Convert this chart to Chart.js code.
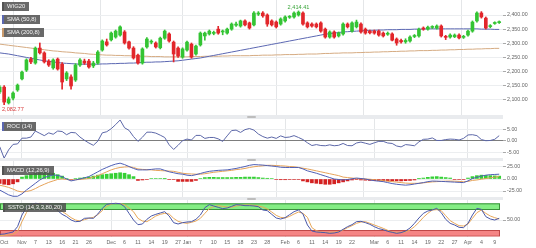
<!DOCTYPE html>
<html><head><meta charset="utf-8">
<script src="https://cdn.jsdelivr.net/npm/chart.js@4.4.1/dist/chart.umd.min.js"></script>
<style>
html,body{margin:0;padding:0;background:#fff;width:536px;height:248px;overflow:hidden;font-family:"Liberation Sans",Arial,sans-serif}
canvas{position:absolute;left:0}
.sep{position:absolute;left:0;width:503px;background:#e9ebee}
.handle{position:absolute;left:247px;width:9px;height:2px;background:#bdbdbd;border-radius:1px}
.tag{position:absolute;left:2px;background:rgba(80,80,80,0.86);color:#f4f4f4;font-size:5.9px;line-height:7px;padding:1px 4px 1px 3px;white-space:nowrap;border-left:2px solid rgba(80,80,80,0.86)}
</style></head><body>
<canvas id="cMain" width="536" height="115" style="top:0;width:536px;height:115px"></canvas>
<canvas id="cRoc" width="536" height="39" style="top:119px;width:536px;height:39px"></canvas>
<canvas id="cMacd" width="536" height="36" style="top:161px;width:536px;height:36px"></canvas>
<canvas id="cSsto" width="536" height="48" style="top:200px;width:536px;height:48px"></canvas>
<div class="sep" style="top:115px;height:4px"></div>
<div class="sep" style="top:158px;height:3px"></div>
<div class="sep" style="top:197px;height:3px"></div>
<div class="handle" style="top:116px"></div>
<div class="handle" style="top:158.5px"></div>
<div class="handle" style="top:197.5px"></div>
<div class="tag" style="top:2px">WIG20</div>
<div class="tag" style="top:15px;border-left-color:#5b67b2">SMA (50,8)</div>
<div class="tag" style="top:28px;border-left-color:#c99a6c">SMA (200,8)</div>
<div class="tag" style="top:122px;border-left-color:#5b67b2">ROC (14)</div>
<div class="tag" style="top:166px">MACD (12,26,9)</div>
<div class="tag" style="top:203px;left:3px">SSTO (14,3,3,80,20)</div>
<script>
// ---------- data ----------
const dates = ["10-25","10-26","10-29","10-30","10-31","11-02","11-05","11-06","11-07","11-08","11-09","11-13","11-14","11-15","11-16","11-19","11-20","11-21","11-22","11-23","11-26","11-27","11-28","11-29","11-30","12-03","12-04","12-05","12-06","12-07","12-10","12-11","12-12","12-13","12-14","12-17","12-18","12-19","12-20","12-21","12-27","12-28","01-02","01-03","01-04","01-07","01-08","01-09","01-10","01-11","01-14","01-15","01-16","01-17","01-18","01-21","01-22","01-23","01-24","01-25","01-28","01-29","01-30","01-31","02-01","02-04","02-05","02-06","02-07","02-08","02-11","02-12","02-13","02-14","02-15","02-18","02-19","02-20","02-21","02-22","02-25","02-26","02-27","02-28","03-01","03-04","03-05","03-06","03-07","03-08","03-11","03-12","03-13","03-14","03-15","03-18","03-19","03-20","03-21","03-22","03-25","03-26","03-27","03-28","03-29","04-01","04-02","04-03","04-04","04-05","04-08","04-09","04-10"];
const tickDates = ["10-26","11-02","11-07","11-13","11-16","11-21","11-26","12-03","12-06","12-11","12-14","12-19","12-27","01-02","01-07","01-10","01-15","01-18","01-23","01-28","02-01","02-06","02-11","02-14","02-19","02-22","03-01","03-06","03-11","03-14","03-19","03-22","03-27","04-01","04-04","04-09"];
const tickTexts = ["Oct","Nov","7","13","16","21","26","Dec","6","11","14","19","27","Jan","7","10","15","18","23","28","Feb","6","11","14","19","22","Mar","6","11","14","19","22","27","Apr","4","9"];
const monthStarts = ["11-02","12-03","01-02","02-01","03-01","04-01"];

const opens = [2128,2145,2089,2106,2135,2174,2205,2244,2230,2283, 2266,2237,2213,2244,2226,2174,2181,2170,2223,2237, 2237,2220,2230,2276,2305,2312,2322,2329,2340,2305, 2283,2258,2230,2287,2304,2301,2284,2318,2333,2304, 2283,2251,2276,2297,2262,2294,2326,2333,2335,2350, 2340,2336,2350,2364,2361,2379,2372,2365,2403,2407, 2400,2379,2375,2368,2379,2392,2393,2400,2407,2372, 2368,2368,2372,2350,2322,2340,2326,2333,2368,2343, 2358,2368,2350,2343,2343,2343,2336,2332,2333,2315, 2310,2305,2308,2324,2326,2354,2350,2356,2354,2361, 2324,2322,2323,2329,2321,2329,2343,2379,2407,2389, 2359,2370,2373];
const highs = [2150,2150,2110,2128,2156,2202,2245,2250,2287,2301, 2270,2242,2245,2248,2232,2200,2188,2228,2246,2244, 2243,2236,2274,2312,2315,2340,2347,2362,2345,2308, 2288,2262,2284,2320,2312,2305,2322,2347,2337,2308, 2287,2284,2308,2301,2294,2340,2340,2347,2343,2360, 2347,2354,2372,2375,2382,2383,2375,2412,2412,2412, 2404,2383,2379,2390,2397,2398,2411,2414.41,2411,2376, 2372,2372,2376,2354,2344,2344,2340,2372,2372,2376, 2382,2372,2354,2347,2347,2347,2340,2340,2337,2319, 2315,2316,2326,2331,2354,2358,2361,2362,2365,2365, 2328,2333,2333,2333,2328,2347,2379,2411,2412,2393, 2366,2376,2379];
const lows = [2122,2082.77,2085,2100,2130,2170,2200,2228,2226,2262, 2230,2218,2208,2205,2138,2168,2138,2165,2218,2225, 2212,2214,2226,2272,2290,2308,2318,2325,2297,2279, 2244,2226,2226,2283,2298,2283,2280,2314,2304,2234, 2250,2247,2272,2247,2258,2290,2311,2329,2330,2332, 2330,2332,2346,2360,2357,2361,2350,2361,2398,2392, 2360,2361,2354,2364,2375,2388,2389,2396,2364,2354, 2357,2354,2339,2318,2318,2318,2322,2329,2354,2339, 2354,2336,2332,2333,2332,2325,2322,2328,2308,2293, 2300,2300,2304,2320,2322,2346,2346,2352,2350,2322, 2313,2318,2320,2315,2317,2325,2339,2375,2389,2350, 2355,2367,2370];
const closes = [2145,2092,2103,2124,2152,2198,2241,2234,2283,2266, 2234,2223,2241,2209,2163,2195,2149,2223,2241,2230, 2216,2230,2269,2308,2294,2336,2343,2358,2301,2283, 2248,2230,2280,2315,2306,2287,2318,2343,2308,2262, 2255,2280,2304,2251,2290,2336,2336,2343,2337,2336, 2343,2350,2368,2368,2379,2365,2354,2407,2407,2397, 2368,2365,2358,2386,2393,2394,2407,2410,2368,2358, 2361,2358,2343,2322,2340,2322,2336,2368,2358,2372, 2375,2340,2336,2337,2336,2329,2326,2334,2311,2301, 2305,2310,2322,2327,2350,2350,2357,2358,2361,2326, 2321,2329,2329,2319,2323,2343,2375,2407,2393,2354, 2362,2372,2375];
const sma50 = [2266,2264,2262,2259,2256,2253,2250,2247,2244,2241, 2238,2236,2234,2232,2230,2229,2228,2227,2226,2226, 2226,2226,2226,2227,2227,2228,2228,2229,2229,2230, 2230,2231,2232,2233,2233,2234,2234,2235,2236,2237, 2238,2240,2242,2244,2246,2248,2251,2254,2257,2260, 2263,2266,2269,2272,2275,2278,2281,2284,2287,2290, 2293,2296,2299,2302,2305,2308,2311,2314,2317,2320, 2323,2326,2329,2332,2334,2336,2338,2340,2341,2342, 2343,2344,2345,2346,2346,2347,2347,2348,2348,2348, 2349,2349,2349,2350,2350,2350,2351,2351,2351,2351, 2351,2351,2351,2351,2351,2351,2351,2351,2350,2350, 2350,2349,2349];
const sma200 = [2297,2295,2293,2291,2289,2287,2285,2283,2281,2279, 2277,2275,2273,2272,2270,2269,2268,2266,2265,2264, 2262,2261,2260,2259,2258,2258,2257,2257,2256,2256, 2255,2255,2254,2254,2253,2253,2253,2252,2252,2252, 2252,2252,2252,2253,2253,2253,2254,2254,2254,2254, 2255,2255,2256,2256,2256,2256,2256,2257,2257,2258, 2258,2258,2259,2259,2260,2260,2260,2261,2261,2262, 2262,2262,2263,2264,2264,2265,2265,2266,2266,2266, 2267,2267,2268,2268,2269,2269,2270,2270,2271,2271, 2272,2272,2273,2273,2274,2274,2274,2275,2275,2276, 2276,2277,2277,2278,2278,2279,2279,2280,2280,2281, 2281,2282,2282];
const roc = [-2.6,-7.6,-4.0,-1.6,-1.4,1.1,1.1,1.6,4.2,3.2, 2.2,3.4,2.8,4.2,4.0,2.6,3.6,3.4,1.6,0.2, -1.0,-2.0,-0.2,3.4,3.9,5.2,7.0,9.0,5.6,4.5, 1.8,-0.3,1.5,3.7,3.7,3.3,2.4,1.4,-1.8,-3.8, -2.0,0.0,0.7,0.3,2.3,2.3,1.0,1.4,1.4,0.8, -0.3,2.1,4.4,4.6,3.6,4.8,5.3,4.6,2.9,1.8, 1.1,1.6,1.0,2.1,1.4,1.6,2.2,1.4,0.5,-0.9, -2.1,-1.7,-2.1,-2.2,-1.8,-2.2,-2.0,-1.2,-2.1,-2.2, -1.0,-0.6,-1.1,-1.6,-0.9,-0.3,-0.3,-1.0,-1.2,-2.3, -2.7,-1.7,-1.9,-2.2,-0.5,0.6,0.7,1.2,0.1,0.1, 0.5,0.7,0.6,0.3,1.0,2.5,2.6,2.2,0.5,0.0, 0.1,0.6,2.2];
const macd = [-23,-28,-33,-36,-36,-31,-23,-16,-9,-2, 3,6,8.5,7.5,5,0,-4,-2,0,2.5, 5,10,15,20,24,28,31,33,30,26, 22,19,19,19,20,21,21,18,15,13, 11,10,8,7,9,11.5,14,16,17,18, 18.5,19,20.5,22,24,26,28.5,30,29.5,29, 28,27,26,24.5,24,24,24,24,21,17, 14.5,12,9,6,3,0,-1,-2,-1,0.5, 2,1,0,-2,-3.5,-4.5,-5.5,-7.5,-9.5,-11, -12,-12.8,-12,-10.5,-9,-7.5,-5.5,-4.3,-4.5,-5, -5.5,-6,-6.5,-7,-7.5,-4,1,3.5,6,8, 9,9.5,10];
const macdSignal = [-13,-15,-17.5,-21,-25,-27,-26,-24,-20,-15, -11,-7,-4,-1,0,-1,-2,-1.5,-1,0, 1,4,7,11,15,19,22,24,25,25.5, 24,21,20,19.5,19,18,17.5,17,16.5,16, 14,12,11,10.5,10,10,11,12.5,14,15, 16,17,18,19.5,20.5,22,24,25.5,26.5,27.5, 28.5,28.5,28,27.5,27,26,25.5,24,22.5,21, 19,17,15,13,11,9,7,4,3,2, 1,0.5,0,-0.5,-1.5,-2.5,-3.5,-4.5,-5.5,-6.5, -7.5,-8.5,-9,-9,-9,-8,-7,-6,-5.5,-5, -4.5,-4.3,-4.5,-5,-5.7,-5,-3,-2,-0.5,1, 2.5,4,5];
const macdHist = [-9,-11,-12,-10,-6,4,7,10,12,13, 14,13,12,9,6,1,-1,1,2,3, 4,6,8,9,10,11,12,13,12,9, 5,-3,-2,-1,1,1,1,0.5,-1,-1, -5,-5,-5,-5,-3,1,3,3.5,3.5,3, 3,3,3,3.5,3.5,4,4,4,3,2, 1.5,1,-1,-1.5,-1.5,-1,-1,-1,-4,-6, -8,-9,-10,-11,-11,-10,-8,-6,-4,-2, -1,-2,-2.5,-3,-3.5,-3.5,-4,-4,-4,-4, -4,-3.5,-3,-2,0.5,2,3.5,4.5,5,4, 3,2,-1,-1,-1,2,5,7,8,7.5, 7,6.5,6];
const stochK = [7,8,11,14,30,65,88,97,100,99, 99,97,90,78,67,60,50,45,46,55, 56,55,68,85,97,99,100,99,90,70, 50,36,38,52,62,67,71,75,62,42, 38,42,44,45,52,65,87,96,92,88, 84,86,91,96,95,93,93,92,90,80, 78,67,56,53,57,66,75,80,68,35, 17,14,13,12,10,11,14,22,30,36, 45,46,42,37,30,24,21,16,13,10, 12,17,26,40,56,70,77,80,85,72, 52,40,35,28,27,40,65,85,82,60, 53,50,55];
const stochD = [3,4,5,7,15,45,72,90,98,100, 99,96,91,85,76,67,57,50,47,51, 55,58,66,78,91,98,100,99,96,86, 75,55,47,45,53,62,67,70,68,55, 46,42,40,43,47,55,70,84,90,93, 91,89,88,92,94,95,95,94,92,89, 83,74,64,58,56,61,68,74,70,58, 27,18,14,13,13,14,15,20,27,33, 40,44,45,40,35,30,25,19,14,13, 13,14,20,30,43,58,70,80,81,78, 63,48,40,33,32,38,55,72,80,70, 62,57,53];
const priceTicks = [2100,2150,2200,2250,2300,2350,2400];
const rocTicks = [-5,0,5];
const macdTicks = [-25,0,25];
const stochTicks = [50];
const stochLevels = [20,80];
const priceMarks = [{date:"10-26", value:2082.77, kind:"low"},{date:"02-06", value:2414.41, kind:"high"}];

// ---------- rendering ----------
const FONT = '"Liberation Sans", Arial, sans-serif';
Chart.defaults.font.family = FONT;
const UP = '#33c433', DOWN = '#e2262b';
const X_MIN = 0.07, X_MAX = 112.85;
const idx = d => dates.indexOf(d);
const tickIdx = tickDates.map(idx);
const monthIdx = monthStarts.map(idx);
const fmt = v => Number(v).toLocaleString('en-US',{minimumFractionDigits:2,maximumFractionDigits:2});
const pts = arr => arr.map((v,i)=>({x:i,y:v}));

function xScale(show){
  return {
    type:'linear', min:X_MIN, max:X_MAX, offset:false,
    afterBuildTicks: s => { s.ticks = tickIdx.map(v=>({value:v})); },
    afterFit: s => { s.height = show ? 11.5 : 0; s.paddingLeft = 0; s.paddingRight = 0; },
    grid:{ drawTicks:false, lineWidth:1, color: c => (c.tick && monthIdx.includes(c.tick.value)) ? '#e4e6e8' : 'rgba(0,0,0,0)' },
    border:{display:false},
    ticks:{ display:show, autoSkip:false, maxRotation:0, minRotation:0, padding:2.4, color:'#666', font:{size:5.3},
      callback: v => tickTexts[tickIdx.indexOf(v)] }
  };
}
function yScale(min,max,ticks,zeroDark){
  return {
    position:'right', min, max,
    afterBuildTicks: s => { s.ticks = ticks.map(v=>({value:v})); },
    afterFit: s => { s.width = 33; s.paddingTop = 0; s.paddingBottom = 0; },
    grid:{ drawTicks:true, tickLength:3, tickColor:'#aaa', lineWidth:1,
      color: c => (zeroDark && c.tick && c.tick.value===0) ? '#7d7d7d' : '#eceef0' },
    border:{display:false},
    ticks:{ padding:1, color:'#666', font:{size:5.3}, callback: v => fmt(v) }
  };
}
function baseOpts(y, showX){
  return { responsive:false, animation:false, devicePixelRatio:1, events:[],
    layout:{padding:0, autoPadding:false},
    plugins:{legend:{display:false}, tooltip:{enabled:false}},
    scales:{ x:xScale(showX), y } };
}
const line = (arr,color,order) => ({type:'line', data:pts(arr), borderColor:color, borderWidth:1, pointRadius:0, tension:0, order});

// main price chart
const candleColors = closes.map((c,i)=> c>=opens[i] ? UP : DOWN);
const markPlugin = { id:'marks', afterDatasetsDraw(chart){
  const {ctx, scales:{x,y}} = chart;
  ctx.save(); ctx.font = '5.6px ' + FONT; ctx.textBaseline = 'alphabetic';
  priceMarks.forEach(m=>{
    const px = x.getPixelForValue(idx(m.date)), py = y.getPixelForValue(m.value);
    const t = fmt(m.value), w = ctx.measureText(t).width;
    const left = Math.max(2, px - w/2);
    ctx.fillStyle = m.kind==='high' ? '#3aa53a' : '#d83a3a';
    ctx.fillText(t, left, m.kind==='high' ? py - 2 : py + 6);
  });
  ctx.restore();
}};
new Chart(document.getElementById('cMain'), {
  type:'bar',
  data:{datasets:[
    line(sma200,'#d5ab82',3),
    line(sma50,'#5b67b2',2),
    {type:'bar', data:lows.map((l,i)=>({x:i,y:[l,highs[i]]})), backgroundColor:candleColors, barThickness:1, grouped:false, order:1},
    {type:'bar', data:opens.map((o,i)=>({x:i,y:[o,closes[i]]})), backgroundColor:candleColors, barThickness:3, minBarLength:1, grouped:false, order:0}
  ]},
  options:baseOpts(yScale(2046.3,2453.06,priceTicks,false), false),
  plugins:[markPlugin]
});

// ROC
new Chart(document.getElementById('cRoc'), {
  type:'line',
  data:{datasets:[ line(roc,'#5c67a8',0) ]},
  options:baseOpts(yScale(-7.52,9.43,rocTicks,true), false)
});

// MACD
new Chart(document.getElementById('cMacd'), {
  type:'bar',
  data:{datasets:[
    line(macd,'#4f5fb5',0),
    line(macdSignal,'#e6a35a',1),
    {type:'bar', data:pts(macdHist), backgroundColor:macdHist.map(v=> v>=0 ? '#35d035' : '#d42222'), barThickness:3, grouped:false, order:2}
  ]},
  options:baseOpts(yScale(-37.5,37.5,macdTicks,false), false)
});

// Slow stochastic
const bandPlugin = { id:'bands', beforeDatasetsDraw(chart){
  const {ctx, chartArea:a, scales:{y}} = chart;
  ctx.save(); ctx.beginPath(); ctx.rect(a.left,a.top,a.right-a.left,a.bottom-a.top); ctx.clip();
  const right = a.right - 3;
  const bands = [
    {from:stochLevels[1], to:100, fill:'#84ee84', stroke:'#3a8f3a'},
    {from:0, to:stochLevels[0], fill:'#f58585', stroke:'#c04848'}
  ];
  bands.forEach(b=>{
    const y1 = y.getPixelForValue(b.to), y2 = y.getPixelForValue(b.from);
    ctx.fillStyle = b.fill; ctx.fillRect(a.left, y1, right-a.left, y2-y1);
    ctx.strokeStyle = b.stroke; ctx.lineWidth = 1;
    ctx.strokeRect(a.left+0.5, y1+0.5, right-a.left-1, y2-y1-1);
  });
  ctx.restore();
}};
new Chart(document.getElementById('cSsto'), {
  type:'line',
  data:{datasets:[ line(stochK,'#4a58a8',0), line(stochD,'#e8a85a',1) ]},
  options:baseOpts(yScale(0.5,110,stochTicks,false), true),
  plugins:[bandPlugin]
});
</script>
</body></html>
